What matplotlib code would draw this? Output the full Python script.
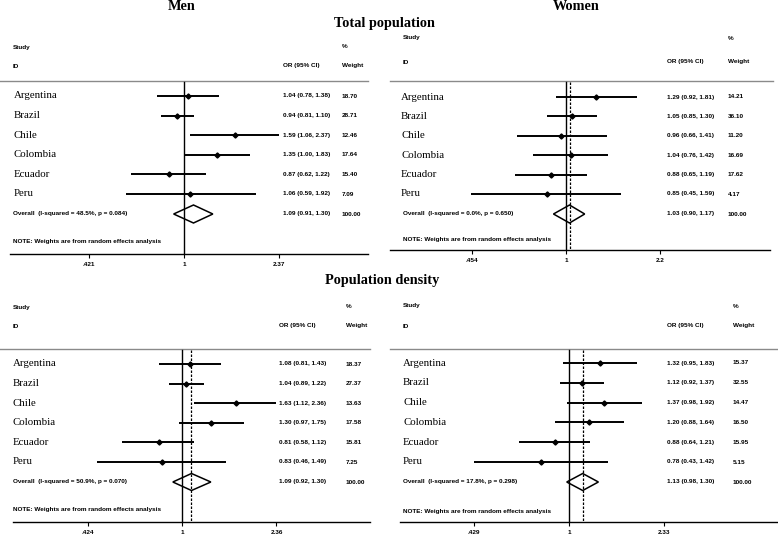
import numpy as np
import matplotlib
matplotlib.use("Agg")
import matplotlib.pyplot as plt
from matplotlib.transforms import blended_transform_factory

# ---------------- data ----------------
countries = ["Argentina", "Brazil", "Chile", "Colombia", "Ecuador", "Peru"]

men_total_or = [1.04, 0.94, 1.59, 1.35, 0.87, 1.06]
men_total_lo = [0.78, 0.81, 1.06, 1.00, 0.62, 0.59]
men_total_hi = [1.38, 1.10, 2.37, 1.83, 1.22, 1.92]
men_total_wt = [18.70, 28.71, 12.46, 17.64, 15.40, 7.09]
men_total_overall = [1.09, 0.91, 1.30]
men_total_i2, men_total_p = 48.5, 0.084
men_total_ticks = [0.421, 1, 2.37]
men_total_ticklabels = [".421", "1", "2.37"]

women_total_or = [1.29, 1.05, 0.96, 1.04, 0.88, 0.85]
women_total_lo = [0.92, 0.85, 0.66, 0.76, 0.65, 0.45]
women_total_hi = [1.81, 1.30, 1.41, 1.42, 1.19, 1.59]
women_total_wt = [14.21, 36.10, 11.20, 16.69, 17.62, 4.17]
women_total_overall = [1.03, 0.90, 1.17]
women_total_i2, women_total_p = 0.0, 0.650
women_total_ticks = [0.454, 1, 2.2]
women_total_ticklabels = [".454", "1", "2.2"]

men_dens_or = [1.08, 1.04, 1.63, 1.30, 0.81, 0.83]
men_dens_lo = [0.81, 0.89, 1.12, 0.97, 0.58, 0.46]
men_dens_hi = [1.43, 1.22, 2.36, 1.75, 1.12, 1.49]
men_dens_wt = [18.37, 27.37, 13.63, 17.58, 15.81, 7.25]
men_dens_overall = [1.09, 0.92, 1.30]
men_dens_i2, men_dens_p = 50.9, 0.070
men_dens_ticks = [0.424, 1, 2.36]
men_dens_ticklabels = [".424", "1", "2.36"]

women_dens_or = [1.32, 1.12, 1.37, 1.20, 0.88, 0.78]
women_dens_lo = [0.95, 0.92, 0.98, 0.88, 0.64, 0.43]
women_dens_hi = [1.83, 1.37, 1.92, 1.64, 1.21, 1.42]
women_dens_wt = [15.37, 32.55, 14.47, 16.50, 15.95, 5.15]
women_dens_overall = [1.13, 0.98, 1.30]
women_dens_i2, women_dens_p = 17.8, 0.298
women_dens_ticks = [0.429, 1, 2.33]
women_dens_ticklabels = [".429", "1", "2.33"]

# ---------------- layout ----------------
W, H = 778, 535
SERIF = "Liberation Serif"
SANS = "Liberation Sans"
SMALL = 4.6

fig = plt.figure(figsize=(W / 100, H / 100), dpi=100)
fig.patch.set_facecolor("white")


def panel(cfg, est, lo, hi, wt, overall, i2, p, ticks, ticklabels):
    x0, x1, p1, k = cfg["x0"], cfg["x1"], cfg["p1"], cfg["k"]
    top, axis = cfg["top"], cfg["axis"]
    ax = fig.add_axes([x0 / W, 1 - axis / H, (x1 - x0) / W, (axis - top) / H])
    ax.set_facecolor("none")
    ax.set_xscale("log")
    ax.set_xlim(np.exp(-(p1 - x0) / k), np.exp((x1 - p1) / k))
    ax.set_ylim(axis, top)
    for s in ["top", "left", "right"]:
        ax.spines[s].set_visible(False)
    ax.spines["bottom"].set_bounds(np.exp((cfg["axl"] - p1) / k), np.exp((cfg["axr"] - p1) / k))
    ax.spines["bottom"].set_linewidth(1.0)
    ax.set_yticks([])
    ax.set_xticks(ticks)
    ax.set_xticklabels(ticklabels)
    ax.xaxis.set_minor_locator(matplotlib.ticker.NullLocator())
    ax.tick_params(axis="x", length=3, width=0.8, pad=3, labelsize=SMALL)
    for t in ax.get_xticklabels():
        t.set_fontfamily(SANS)
        t.set_fontweight("bold")

    tr = blended_transform_factory(ax.transAxes, ax.transData)

    def fx(px):
        return (px - x0) / (x1 - x0)

    rows = cfg["row0"] + cfg["step"] * np.arange(len(countries))
    ov_y = cfg["overall"]

    kw = dict(transform=tr, fontsize=SMALL, fontfamily=SANS, fontweight="bold",
              va="center", clip_on=True)
    ax.text(fx(cfg["study_x"]), cfg["study_y"], "Study", ha="left", **kw)
    ax.text(fx(cfg["study_x"]), cfg["id_y"], "ID", ha="left", **kw)
    ax.text(fx(cfg["wt_x"]), cfg["study_y"], "%", ha="left", **kw)
    ax.text(fx(cfg["or_x"]), cfg["id_y"], "OR (95% CI)", ha="left", **kw)
    ax.text(fx(cfg["wt_x"]), cfg["id_y"], "Weight", ha="left", **kw)

    ax.plot([fx(cfg["hl"]), fx(cfg["hr"])], [cfg["header"]] * 2, transform=tr,
            color="#8a8a8a", lw=1.0, clip_on=False)

    # reference line and overall line
    ax.plot([1, 1], [cfg["header"] + 1, axis], color="black", lw=1.0, zorder=2)
    if cfg["dashed"]:
        ax.plot([overall[0]] * 2, [cfg["header"] + 1, axis], color="black", lw=0.9,
                linestyle=(0, (2.0, 1.2)), zorder=2)

    ax.hlines(rows, lo, hi, color="black", lw=1.4, zorder=3)
    ax.plot(est, rows, "D", color="black", ms=2.6, zorder=4)

    e, l, h = overall
    dh = cfg["dh"]
    ax.fill([l, e, h, e, l], [ov_y, ov_y - dh, ov_y, ov_y + dh, ov_y],
            facecolor="none", edgecolor="black", lw=1.1, zorder=3)

    for i, c in enumerate(countries):
        ax.text(fx(cfg["name_x"]), rows[i], c, transform=tr, fontsize=7.8,
                fontfamily=SERIF, va="center", ha="left")
        ax.text(fx(cfg["or_x"]), rows[i], f"{est[i]:.2f} ({lo[i]:.2f}, {hi[i]:.2f})",
                ha="left", **kw)
        ax.text(fx(cfg["wt_x"]), rows[i], f"{wt[i]:.2f}", ha="left", **kw)

    ax.text(fx(cfg["study_x"]), ov_y, f"Overall  (I-squared = {i2:.1f}%, p = {p:.3f})",
            ha="left", **kw)
    ax.text(fx(cfg["or_x"]), ov_y, f"{e:.2f} ({l:.2f}, {h:.2f})", ha="left", **kw)
    ax.text(fx(cfg["wt_x"]), ov_y, f"{100:.2f}", ha="left", **kw)
    ax.text(fx(cfg["study_x"]), cfg["note"], "NOTE: Weights are from random effects analysis",
            ha="left", **kw)
    return ax


tl = dict(x0=0, x1=368, p1=184, k=110, top=30, axis=254, axl=10, axr=368,
          study_x=13, name_x=14, or_x=283, wt_x=342, study_y=47, id_y=66, header=81,
          hl=0, hr=368, row0=96, step=19.6, overall=214, note=242, dh=9, dashed=False)
tr_ = dict(x0=389, x1=778, p1=566, k=119, top=30, axis=250, axl=390, axr=770,
           study_x=403, name_x=401, or_x=667, wt_x=728, study_y=38, id_y=62, header=81,
           hl=390, hr=773, row0=97, step=19.4, overall=214, note=239, dh=9, dashed=True)
bl = dict(x0=0, x1=389, p1=182, k=110, top=292, axis=522, axl=13, axr=370,
          study_x=13, name_x=13, or_x=279, wt_x=346, study_y=307, id_y=326, header=349,
          hl=0, hr=370, row0=364, step=19.6, overall=482, note=510, dh=8.5, dashed=True)
br = dict(x0=389, x1=778, p1=569, k=112, top=292, axis=522, axl=400, axr=777,
          study_x=403, name_x=403, or_x=667, wt_x=733, study_y=306, id_y=326, header=349,
          hl=390, hr=777, row0=363, step=19.8, overall=482, note=512, dh=8.5, dashed=True)

panel(tl, men_total_or, men_total_lo, men_total_hi, men_total_wt, men_total_overall,
      men_total_i2, men_total_p, men_total_ticks, men_total_ticklabels)
panel(tr_, women_total_or, women_total_lo, women_total_hi, women_total_wt, women_total_overall,
      women_total_i2, women_total_p, women_total_ticks, women_total_ticklabels)
panel(bl, men_dens_or, men_dens_lo, men_dens_hi, men_dens_wt, men_dens_overall,
      men_dens_i2, men_dens_p, men_dens_ticks, men_dens_ticklabels)
panel(br, women_dens_or, women_dens_lo, women_dens_hi, women_dens_wt, women_dens_overall,
      women_dens_i2, women_dens_p, women_dens_ticks, women_dens_ticklabels)

tkw = dict(fontfamily=SERIF, fontweight="bold", ha="center", va="baseline", fontsize=10.3)
fig.text(182 / W, 1 - 10 / H, "Men", **tkw)
fig.text(576 / W, 1 - 10 / H, "Women", **tkw)
fig.text(384 / W, 1 - 27 / H, "Total population", **tkw)
fig.text(382 / W, 1 - 284 / H, "Population density", **tkw)

fig.savefig("out.png", dpi=100, facecolor="white")
